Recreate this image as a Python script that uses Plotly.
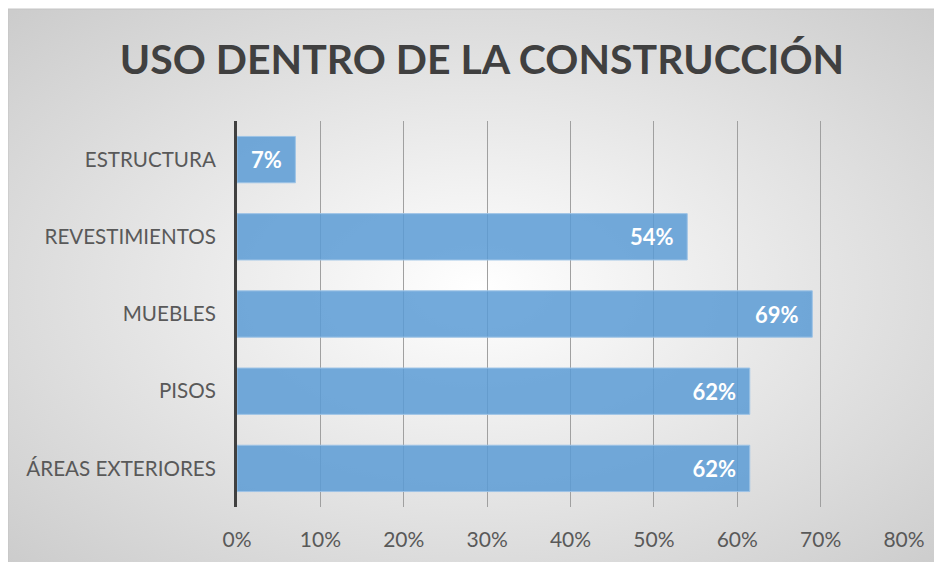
import plotly.graph_objects as go
from urllib.parse import quote

# data
categories = ["ÁREAS EXTERIORES", "PISOS", "MUEBLES", "REVESTIMIENTOS", "ESTRUCTURA"]
values = [0.615, 0.615, 0.69, 0.54, 0.07]
labels = ["62%", "62%", "69%", "54%", "7%"]
tick_vals = [0, 0.1, 0.2, 0.3, 0.4, 0.5, 0.6, 0.7, 0.8]
tick_text = ["0%", "10%", "20%", "30%", "40%", "50%", "60%", "70%", "80%"]

# figure sits 8px in from the page corner (body margin); right/bottom run off the page
W, H = 942, 562
L, R, T, B = 229, 46, 113, 63

# radial gradient background as inline svg
svg = ('<svg xmlns="http://www.w3.org/2000/svg" width="100" height="100" preserveAspectRatio="none">'
       '<defs><radialGradient id="g" cx="50%" cy="50%" r="70%">'
       '<stop offset="0%" stop-color="#ffffff"/><stop offset="100%" stop-color="#cccccc"/>'
       '</radialGradient></defs><rect width="100" height="100" fill="url(#g)"/></svg>')
bg_src = "data:image/svg+xml;charset=utf-8," + quote(svg)

pw, ph = W - L - R, H - T - B
x0 = -L / pw
x1 = (W - L) / pw
y1 = (H - B - 1) / ph
y0 = -B / ph

fig = go.Figure(go.Bar(
    y=categories,
    x=values,
    orientation="h",
    text=labels,
    texttemplate="%{text}\u00a0\u00a0",
    textposition="inside",
    insidetextanchor="end",
    textfont=dict(family="Lato", size=22, color="white", weight="bold"),
    marker=dict(color="rgba(91,155,213,0.85)", line=dict(color="#9dc3e6", width=1)),
    cliponaxis=False,
))

fig.update_layout(
    width=W, height=H,
    margin=dict(l=L, r=R, t=T, b=B),
    paper_bgcolor="white",
    plot_bgcolor="rgba(0,0,0,0)",
    bargap=0.4,
    showlegend=False,
    title=dict(text="<b>USO DENTRO DE LA CONSTRUCCIÓN</b>", x=474 / W, xref="container", xanchor="center",
               y=1 - 52 / H, yref="container", yanchor="middle",
               font=dict(family="Lato", size=41, color="#404040")),
    font=dict(family="Lato", size=21, color="#595959"),
    images=[dict(source=bg_src, xref="paper", yref="paper", x=x0, y=y1,
                 sizex=x1 - x0, sizey=y1 - y0, sizing="stretch", layer="below",
                 xanchor="left", yanchor="top")],
    shapes=[dict(type="rect", xref="paper", yref="paper", x0=x0, x1=x1 + 0.01, y0=y0 - 0.01, y1=y1,
                 line=dict(color="#c4c4c4", width=1), layer="below")],
)

fig.update_xaxes(range=[0, 0.8], tickvals=tick_vals, ticktext=tick_text,
                 showgrid=True, gridcolor="#a0a0a0", gridwidth=1,
                 zeroline=False, showline=False, ticks="", ticklabelstandoff=18)
fig.update_yaxes(showline=True, linecolor="#404040", linewidth=3, ticks="",
                 tickfont=dict(size=20.6), ticklabelstandoff=14, showgrid=False)

fig.write_html("out.html")
